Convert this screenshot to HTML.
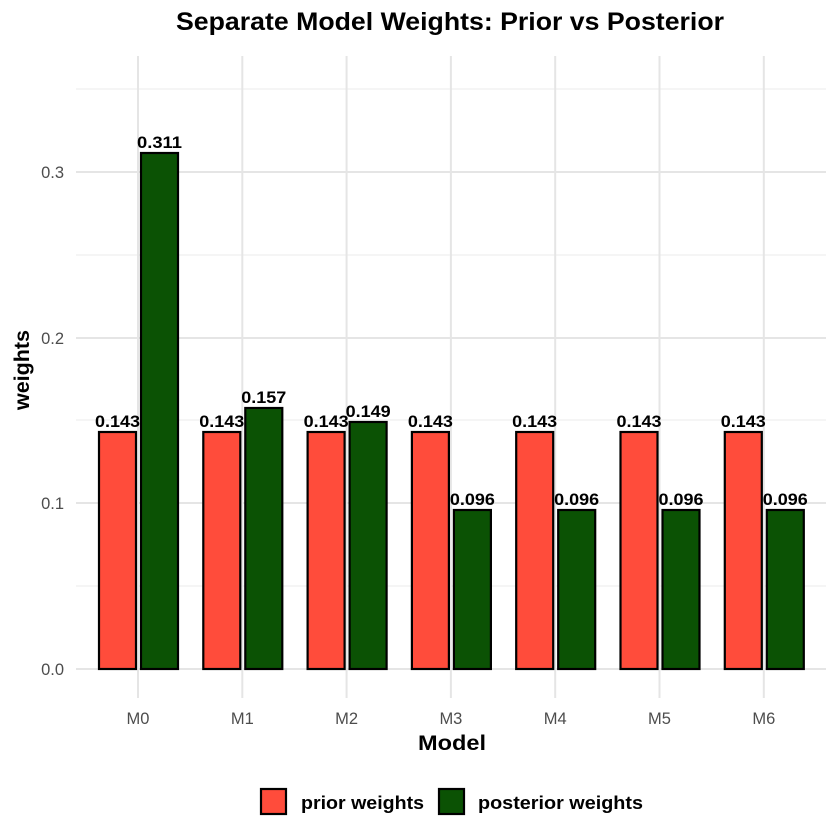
<!DOCTYPE html>
<html><head><meta charset="utf-8"><style>body{margin:0;background:#fff}svg{display:block}</style></head><body>
<svg width="840" height="840" xmlns="http://www.w3.org/2000/svg" font-family="Liberation Sans, Arial, sans-serif">
<rect width="840" height="840" fill="#fff"/>
<g stroke="#ebebeb" stroke-width="1">
<line x1="76" x2="826" y1="586" y2="586"/><line x1="76" x2="826" y1="420" y2="420"/><line x1="76" x2="826" y1="255" y2="255"/><line x1="76" x2="826" y1="89" y2="89"/>
</g>
<g stroke="#e5e5e5" stroke-width="2">
<line x1="76" x2="826" y1="669" y2="669"/><line x1="76" x2="826" y1="503" y2="503"/><line x1="76" x2="826" y1="338" y2="338"/><line x1="76" x2="826" y1="172" y2="172"/>
<line x1="138" x2="138" y1="56" y2="698"/><line x1="242.3" x2="242.3" y1="56" y2="698"/><line x1="346.6" x2="346.6" y1="56" y2="698"/><line x1="450.9" x2="450.9" y1="56" y2="698"/><line x1="555.2" x2="555.2" y1="56" y2="698"/><line x1="659.5" x2="659.5" y1="56" y2="698"/><line x1="763.8" x2="763.8" y1="56" y2="698"/>
</g>
<g stroke="#000" stroke-width="2.2">
<rect x="99" y="432" width="37" height="237" fill="#FF4C3B"/><rect x="141" y="153" width="37" height="516" fill="#0B5204"/>
<rect x="203.3" y="432" width="37" height="237" fill="#FF4C3B"/><rect x="245.3" y="408" width="37" height="261" fill="#0B5204"/>
<rect x="307.6" y="432" width="37" height="237" fill="#FF4C3B"/><rect x="349.6" y="422" width="37" height="247" fill="#0B5204"/>
<rect x="411.9" y="432" width="37" height="237" fill="#FF4C3B"/><rect x="453.9" y="510" width="37" height="159" fill="#0B5204"/>
<rect x="516.2" y="432" width="37" height="237" fill="#FF4C3B"/><rect x="558.2" y="510" width="37" height="159" fill="#0B5204"/>
<rect x="620.5" y="432" width="37" height="237" fill="#FF4C3B"/><rect x="662.5" y="510" width="37" height="159" fill="#0B5204"/>
<rect x="724.8" y="432" width="37" height="237" fill="#FF4C3B"/><rect x="766.8" y="510" width="37" height="159" fill="#0B5204"/>
</g>
<g font-size="17" font-weight="bold" text-anchor="middle" fill="#000">
<text x="117.5" y="427" textLength="45" lengthAdjust="spacingAndGlyphs">0.143</text><text x="159.5" y="148" textLength="45" lengthAdjust="spacingAndGlyphs">0.311</text>
<text x="221.8" y="427" textLength="45" lengthAdjust="spacingAndGlyphs">0.143</text><text x="263.8" y="403" textLength="45" lengthAdjust="spacingAndGlyphs">0.157</text>
<text x="326.1" y="427" textLength="45" lengthAdjust="spacingAndGlyphs">0.143</text><text x="368.1" y="417" textLength="45" lengthAdjust="spacingAndGlyphs">0.149</text>
<text x="430.4" y="427" textLength="45" lengthAdjust="spacingAndGlyphs">0.143</text><text x="472.4" y="505" textLength="45" lengthAdjust="spacingAndGlyphs">0.096</text>
<text x="534.7" y="427" textLength="45" lengthAdjust="spacingAndGlyphs">0.143</text><text x="576.7" y="505" textLength="45" lengthAdjust="spacingAndGlyphs">0.096</text>
<text x="639" y="427" textLength="45" lengthAdjust="spacingAndGlyphs">0.143</text><text x="681" y="505" textLength="45" lengthAdjust="spacingAndGlyphs">0.096</text>
<text x="743.3" y="427" textLength="45" lengthAdjust="spacingAndGlyphs">0.143</text><text x="785.3" y="505" textLength="45" lengthAdjust="spacingAndGlyphs">0.096</text>
</g>
<g font-size="16.5" fill="#4d4d4d" text-anchor="end">
<text x="64" y="675">0.0</text><text x="64" y="509">0.1</text><text x="64" y="344">0.2</text><text x="64" y="178">0.3</text>
</g>
<g font-size="16.5" fill="#4d4d4d" text-anchor="middle">
<text x="138" y="724">M0</text><text x="242.3" y="724">M1</text><text x="346.6" y="724">M2</text><text x="450.9" y="724">M3</text><text x="555.2" y="724">M4</text><text x="659.5" y="724">M5</text><text x="763.8" y="724">M6</text>
</g>
<text x="452" y="750" font-size="21" font-weight="bold" text-anchor="middle" textLength="68" lengthAdjust="spacingAndGlyphs">Model</text>
<text transform="translate(29,370) rotate(-90)" font-size="21" font-weight="bold" text-anchor="middle" textLength="80" lengthAdjust="spacingAndGlyphs">weights</text>
<text x="450" y="30" font-size="25" font-weight="bold" text-anchor="middle" textLength="548" lengthAdjust="spacingAndGlyphs">Separate Model Weights: Prior vs Posterior</text>
<rect x="261" y="789" width="25" height="25" fill="#FF4C3B" stroke="#000" stroke-width="2.2"/>
<text x="301" y="809" font-size="18.5" font-weight="bold" textLength="123" lengthAdjust="spacingAndGlyphs">prior weights</text>
<rect x="439" y="789" width="25" height="25" fill="#0B5204" stroke="#000" stroke-width="2.2"/>
<text x="478" y="809" font-size="18.5" font-weight="bold" textLength="165" lengthAdjust="spacingAndGlyphs">posterior weights</text>
</svg>
</body></html>
